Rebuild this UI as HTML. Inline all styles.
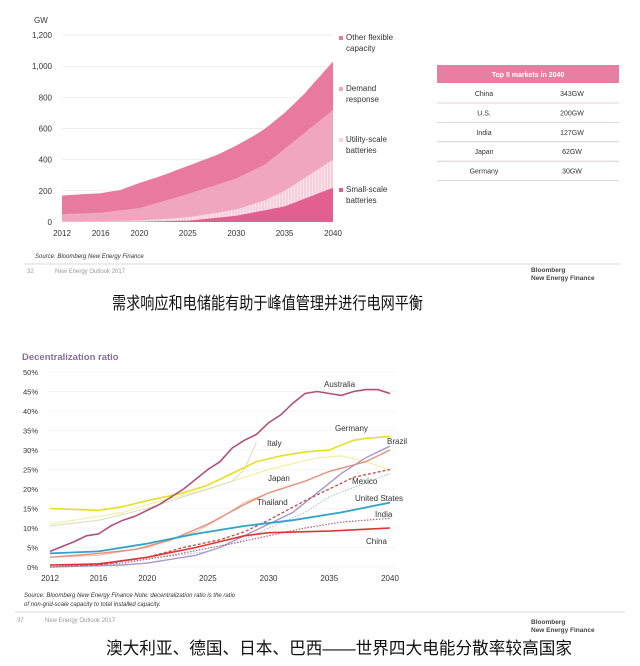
<!DOCTYPE html>
<html><head><meta charset="utf-8"><style>
body{margin:0;background:#fff;width:640px;height:666px;overflow:hidden;font-family:"Liberation Sans",sans-serif}
svg{position:absolute;left:0;top:0}
</style></head><body>
<svg id="s" width="640" height="666" xmlns="http://www.w3.org/2000/svg" font-family="Liberation Sans, sans-serif">
<defs><pattern id="st" width="3" height="4" patternUnits="userSpaceOnUse"><rect width="3" height="4" fill="#f7cfdc"/><rect width="1" height="4" fill="#fbe6ee"/></pattern></defs>
<g id="top"></g>
<g id="bot"></g>
<text x="112" y="309" font-size="17" textLength="311" lengthAdjust="spacingAndGlyphs" fill="#111" font-family="Liberation Sans, Noto Sans CJK SC, sans-serif">需求响应和电储能有助于峰值管理并进行电网平衡</text>
<text x="106" y="654" font-size="17" textLength="466" lengthAdjust="spacingAndGlyphs" fill="#111" font-family="Liberation Sans, Noto Sans CJK SC, sans-serif">澳大利亚、德国、日本、巴西——世界四大电能分散率较高国家</text>
</svg>
<script>
const NS="http://www.w3.org/2000/svg";
function el(p,t,a,txt){const e=document.createElementNS(NS,t);for(const k in a)e.setAttribute(k,a[k]);if(txt!=null)e.textContent=txt;p.appendChild(e);return e}
function interp(pts,x){for(let i=0;i<pts.length-1;i++){if(x>=pts[i][0]&&x<=pts[i+1][0]){const t=(x-pts[i][0])/(pts[i+1][0]-pts[i][0]);return pts[i][1]+t*(pts[i+1][1]-pts[i][1])}}return pts[pts.length-1][1]}
const T=document.getElementById('top');
const tx=y=>62+(y-2012)*(271/28), ty=v=>222-v*187/1200;
el(T,'text',{x:34,y:23,'font-size':8,fill:'#333'},'GW');
[0,200,400,600,800,1000,1200].forEach(v=>{el(T,'text',{x:52,y:ty(v)+3,'font-size':8,fill:'#333','text-anchor':'end'},v.toLocaleString('en-US'));if(v>0)el(T,'line',{x1:62,x2:333,y1:ty(v),y2:ty(v),stroke:'#e6e6e6','stroke-width':0.7})});
[2012,2016,2020,2025,2030,2035,2040].forEach(y=>el(T,'text',{x:tx(y),y:236,'font-size':8,fill:'#333','text-anchor':'middle'},y));
const layers=[
 {c:'#e8799f',p:[[2012,170],[2016,185],[2018,205],[2020,250],[2022,290],[2025,360],[2028,430],[2030,490],[2032,560],[2033,600],[2035,700],[2037,820],[2040,1030]]},
 {c:'#f1a6bf',p:[[2012,50],[2016,60],[2020,90],[2025,180],[2030,280],[2033,370],[2035,470],[2040,720]]},
 {c:'url(#st)',p:[[2012,2],[2020,10],[2025,30],[2030,80],[2033,140],[2035,200],[2040,400]]},
 {c:'#e2608f',p:[[2012,0],[2020,2],[2025,8],[2030,40],[2035,100],[2040,220]]}];
layers.forEach(L=>{let d='M'+tx(2012)+','+ty(0);for(let y=2012;y<=2040;y+=0.5)d+=' L'+tx(y).toFixed(1)+','+ty(interp(L.p,y)).toFixed(1);d+=' L'+tx(2040)+','+ty(0)+'Z';el(T,'path',{d:d,fill:L.c})});
const leg=[[40,'#e8799f','Other flexible','capacity'],[91,'#f1a6bf','Demand','response'],[142,'#f7d3e0','Utility-scale','batteries'],[192,'#e2608f','Small-scale','batteries']];
leg.forEach(l=>{el(T,'rect',{x:339,y:l[0]-4,width:4,height:4,fill:l[1]});el(T,'text',{x:346,y:l[0],'font-size':8,fill:'#333'},l[2]);el(T,'text',{x:346,y:l[0]+11,'font-size':8,fill:'#333'},l[3])});
el(T,'text',{x:35,y:258,'font-size':6,fill:'#333','font-style':'italic'},'Source: Bloomberg New Energy Finance');
el(T,'line',{x1:25,x2:620,y1:264,y2:264,stroke:'#ccc','stroke-width':0.8});
el(T,'text',{x:27,y:273,'font-size':6,fill:'#999'},'32');
el(T,'text',{x:55,y:273,'font-size':6,fill:'#999'},'New Energy Outlook 2017');
el(T,'text',{x:531,y:272,'font-size':6.5,fill:'#444','font-weight':'bold'},'Bloomberg');
el(T,'text',{x:531,y:280,'font-size':6.5,fill:'#444','font-weight':'bold'},'New Energy Finance');
el(T,'rect',{x:437,y:65,width:182,height:18,fill:'#e77fa2'});
el(T,'text',{x:528,y:77,'font-size':7,fill:'#fff','font-weight':'bold','text-anchor':'middle'},'Top 5 markets in 2040');
[['China','343GW'],['U.S.','200GW'],['India','127GW'],['Japan','62GW'],['Germany','30GW']].forEach((r,i)=>{const y=93+i*19.4;el(T,'text',{x:484,y:y+3,'font-size':7,fill:'#333','text-anchor':'middle'},r[0]);el(T,'text',{x:572,y:y+3,'font-size':7,fill:'#333','text-anchor':'middle'},r[1]);el(T,'line',{x1:437,x2:619,y1:y+10,y2:y+10,stroke:'#d8c8cc','stroke-width':0.8})});
const B=document.getElementById('bot');
const bx=y=>50+(y-2012)*(340/28), by=v=>567-v*3.9;
el(B,'text',{x:22,y:360,'font-size':9.5,fill:'#8a6e98','font-weight':'bold'},'Decentralization ratio');
for(let v=0;v<=50;v+=5){el(B,'text',{x:38,y:by(v)+3,'font-size':7.5,fill:'#333','text-anchor':'end'},v+'%');el(B,'line',{x1:48,x2:396,y1:by(v),y2:by(v),stroke:'#ececec','stroke-width':0.6})}
[2012,2016,2020,2025,2030,2035,2040].forEach(y=>el(B,'text',{x:bx(y),y:581,'font-size':8,fill:'#333','text-anchor':'middle'},y));
const S=[
 {c:'#f3efa4',w:1.2,p:[[2012,11],[2014,12],[2016,13],[2018,14],[2020,16],[2025,20],[2030,25],[2034,28],[2036,28.5],[2038,27],[2040,25]]},
 {c:'#d6dcc2',w:1,p:[[2012,10.5],[2016,12],[2020,15],[2024,19],[2027,22],[2028,25],[2029,32]]},
 {c:'#e6e020',w:1.6,p:[[2012,15],[2016,14.5],[2018,15.5],[2020,17],[2023,19],[2025,21],[2027,24],[2029,27],[2031,28.5],[2033,29.5],[2035,30],[2037,32.5],[2038,33],[2040,33.5]]},
 {c:'#f4b8a4',w:1,p:[[2012,2.5],[2016,3],[2020,5],[2024,9],[2026,12.5],[2028,16.5],[2030,19],[2032,21]]},
 {c:'#e8907a',w:1.4,p:[[2012,2.5],[2016,3.5],[2019,4.5],[2022,7],[2025,11],[2028,16],[2030,19],[2033,22],[2035,24.5],[2038,27],[2040,30]]},
 {c:'#a598cc',w:1.4,p:[[2012,0],[2018,0.5],[2020,1],[2024,3],[2026,5],[2028,8],[2030,11],[2032,14],[2034,19],[2036,24],[2038,28],[2040,31]]},
 {c:'#a8bccc',w:1,d:'1.5,1.5',p:[[2012,0],[2020,2],[2025,4],[2028,7],[2030,10],[2033,14],[2035,18],[2040,24]]},
 {c:'#b06070',w:1.2,d:'1.5,1.5',p:[[2012,0],[2018,1],[2022,3],[2027,6],[2030,8],[2033,10],[2036,11.5],[2040,12.5]]},
 {c:'#c04848',w:1.3,d:'3,2',p:[[2012,0.5],[2016,0.5],[2018,1.5],[2020,2.5],[2023,5],[2026,7],[2028,9],[2030,12],[2033,17],[2035,20],[2037,23],[2040,25]]},
 {c:'#2ea4c8',w:1.8,p:[[2012,3.5],[2016,4],[2020,6],[2024,8.5],[2028,10.5],[2032,12],[2036,14],[2040,16.5]]},
 {c:'#e03434',w:1.6,p:[[2012,0.5],[2016,0.8],[2020,2.5],[2024,5],[2026,6.5],[2028,8],[2030,8.8],[2035,9.2],[2040,10]]},
 {c:'#b0507a',w:1.6,p:[[2012,4],[2014,6.5],[2015,8],[2016,8.5],[2017,10.5],[2018,12],[2019,13],[2020,14.5],[2021,16],[2022,18],[2023,20],[2024,22.5],[2025,25],[2026,27],[2027,30.5],[2028,32.5],[2029,34],[2030,37],[2031,39],[2032,42],[2033,44.5],[2034,45],[2035,44.5],[2036,44],[2037,45],[2038,45.5],[2039,45.5],[2040,44.5]]}];
S.forEach(s=>{const pts=s.p.map(q=>bx(q[0]).toFixed(1)+','+by(q[1]).toFixed(1)).join(' ');const a={points:pts,fill:'none',stroke:s.c,'stroke-width':s.w};if(s.d)a['stroke-dasharray']=s.d;el(B,'polyline',a)});
[['Australia',324,387],['Germany',335,431],['Italy',267,446],['Brazil',387,444],['Japan',268,481],['Mexico',352,484],['Thailand',257,505],['United States',355,501],['India',375,517],['China',366,544]].forEach(l=>el(B,'text',{x:l[1],y:l[2],'font-size':8,fill:'#333'},l[0]));
el(B,'text',{x:24,y:597,'font-size':6,fill:'#333','font-style':'italic'},'Source: Bloomberg New Energy Finance  Note: decentralization ratio is the ratio');
el(B,'text',{x:24,y:606,'font-size':6,fill:'#333','font-style':'italic'},'of non-grid-scale capacity to total installed capacity.');
el(B,'line',{x1:15,x2:625,y1:612,y2:612,stroke:'#ccc','stroke-width':0.8});
el(B,'text',{x:17,y:622,'font-size':6,fill:'#999'},'37');
el(B,'text',{x:45,y:622,'font-size':6,fill:'#999'},'New Energy Outlook 2017');
el(B,'text',{x:531,y:624,'font-size':6.5,fill:'#444','font-weight':'bold'},'Bloomberg');
el(B,'text',{x:531,y:632,'font-size':6.5,fill:'#444','font-weight':'bold'},'New Energy Finance');
</script>
</body></html>
